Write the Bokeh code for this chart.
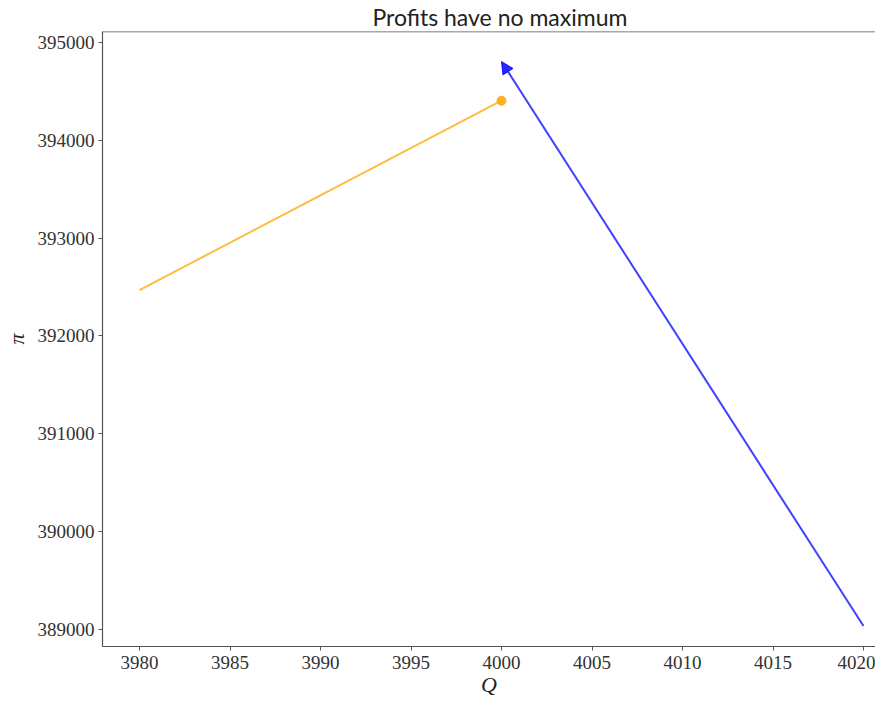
from bokeh.plotting import figure
from bokeh.models import Arrow, NormalHead, FixedTicker, Range1d, ColumnDataSource, BasicTickFormatter, Span
from bokeh.embed import file_html
from bokeh.resources import INLINE

# data
q_orange = [3980, 4000]
pi_orange = [392470, 394405]
q_dot = [4000]
pi_dot = [394405]
q_arrow_start = [4020]
pi_arrow_start = [389035]
q_arrow_end = [4000]
pi_arrow_end = [394805]
x_ticks = [3980, 3985, 3990, 3995, 4000, 4005, 4010, 4015, 4020]
y_ticks = [389000, 390000, 391000, 392000, 393000, 394000, 395000]

FIG_W = 875
LEFT = 94
frame_w = FIG_W - LEFT - 8
px_per_q = 18.1
x0 = 3980 - 37 / px_per_q
x1 = x0 + frame_w / px_per_q
px_per_pi = 0.09783
y1 = 395000 + 11 / px_per_pi
y0 = 389000 - 17 / px_per_pi

p = figure(width=FIG_W, height=699, output_backend="svg", toolbar_location=None,
           x_range=Range1d(x0, x1), y_range=Range1d(y0, y1),
           title="Profits have no maximum",
           min_border=0,
           min_border_left=LEFT, min_border_right=0, min_border_top=24, min_border_bottom=50)

p.title.align = "left"
p.title.offset = 270
p.title.text_font = "Lato"
p.title.text_font_size = "23px"
p.title.text_font_style = "normal"
p.title.text_color = "#222222"
p.title.standoff = 1

p.outline_line_color = None
p.grid.visible = False
p.background_fill_color = "white"
p.border_fill_color = "white"

for ax in (p.xaxis[0], p.yaxis[0]):
    ax.major_label_text_font = "Liberation Serif"
    ax.major_label_text_font_size = "19px"
    ax.major_label_text_color = "#333333"
    ax.axis_line_color = "#555555"
    ax.axis_line_width = 1.2
    ax.major_tick_line_color = "#555555"
    ax.major_tick_out = 4
    ax.major_tick_in = 0
    ax.minor_tick_line_color = None
    ax.axis_label_text_font = "Liberation Serif"
    ax.axis_label_text_font_style = "italic"
    ax.axis_label_text_font_size = "22px"
    ax.axis_label_text_color = "#222222"

p.xaxis[0].ticker = FixedTicker(ticks=x_ticks)
p.yaxis[0].ticker = FixedTicker(ticks=y_ticks)
p.yaxis[0].formatter = BasicTickFormatter(use_scientific=False)
p.xaxis[0].formatter = BasicTickFormatter(use_scientific=False)
p.xaxis[0].axis_label = "Q"
p.yaxis[0].axis_label = "π"
p.xaxis[0].axis_label_standoff = 0
p.yaxis[0].axis_label_standoff = 6
p.xaxis[0].major_label_standoff = 5
p.yaxis[0].major_label_standoff = 4

# top spine
p.add_layout(Span(location=y1, dimension="width", line_color="#555555", line_width=1.5))

p.line(q_orange, pi_orange, line_color="orange", line_alpha=0.75, line_width=2)
p.scatter(q_dot, pi_dot, size=9, fill_color="orange", line_color="orange", alpha=0.85)

src = ColumnDataSource(dict(x0=q_arrow_start, y0=pi_arrow_start, x1=q_arrow_end, y1=pi_arrow_end))
p.add_layout(Arrow(source=src, x_start="x0", y_start="y0", x_end="x1", y_end="y1",
                   line_color="blue", line_alpha=0.75, line_width=2,
                   end=NormalHead(size=12, fill_color="blue", line_color="blue",
                                  fill_alpha=0.85, line_alpha=0.85)))

open("out.html", "w").write(file_html(p, INLINE))
